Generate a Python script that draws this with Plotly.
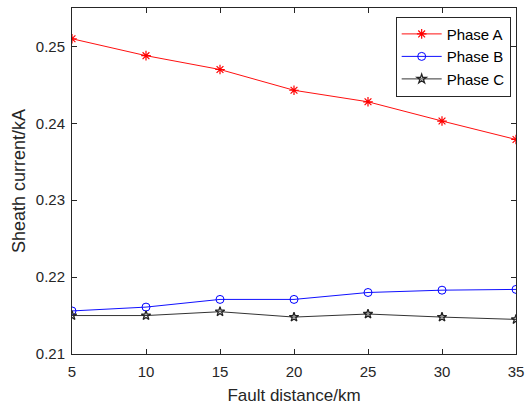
import plotly.graph_objects as go

distance = [5, 10, 15, 20, 25, 30, 35]
phase_a = [0.2510, 0.2488, 0.2470, 0.2443, 0.2428, 0.2403, 0.2379]
phase_b = [0.2156, 0.2161, 0.2171, 0.2171, 0.2180, 0.2183, 0.2184]
phase_c = [0.2150, 0.2150, 0.2155, 0.2148, 0.2152, 0.2148, 0.2145]

x_ticks = [5, 10, 15, 20, 25, 30, 35]
y_ticks = [0.21, 0.22, 0.23, 0.24, 0.25]

FONT = "Liberation Sans, Arial, sans-serif"

fig = go.Figure()
fig.add_trace(go.Scatter(x=distance, y=phase_a, name="Phase A", mode="lines+markers",
                         line=dict(color="#FF1010", width=1),
                         marker=dict(symbol="asterisk-open", size=8, color="#FF0000",
                                     line=dict(color="#FF0000", width=1.2))))
fig.add_trace(go.Scatter(x=distance, y=phase_b, name="Phase B", mode="lines+markers",
                         line=dict(color="#1010FF", width=1),
                         marker=dict(symbol="circle-open", size=8, color="#0000FF",
                                     line=dict(color="#0000FF", width=1))))
fig.add_trace(go.Scatter(x=distance, y=phase_c, name="Phase C", mode="lines+markers",
                         line=dict(color="#333333", width=1),
                         marker=dict(symbol="star-open", size=7, color="#222222",
                                     line=dict(color="#222222", width=1.3))))

axis_common = dict(showgrid=False, zeroline=False, showline=True, linecolor="#262626",
                   linewidth=1, mirror="ticks", ticks="inside", ticklen=5,
                   tickcolor="#262626", tickfont=dict(family=FONT, size=15, color="#262626"))

fig.update_xaxes(range=[5, 35], tickvals=x_ticks, ticktext=[str(v) for v in x_ticks],
                 ticklabelstandoff=4, automargin=False,
                 title=dict(text="Fault distance/km", font=dict(family=FONT, size=17, color="#262626")),
                 **axis_common)
fig.update_yaxes(range=[0.21, 0.255], tickvals=y_ticks, ticktext=["0.21", "0.22", "0.23", "0.24", "0.25"],
                 ticklabelstandoff=3, automargin=True,
                 title=dict(text="Sheath current/kA", font=dict(family=FONT, size=18, color="#262626"), standoff=5),
                 **axis_common)

fig.update_layout(
    width=530, height=405,
    margin=dict(l=72, r=14, t=8, b=51),
    paper_bgcolor="white", plot_bgcolor="white",
    showlegend=True,
    legend=dict(x=0.988, y=0.975, xanchor="right", yanchor="top",
                bgcolor="white", bordercolor="#262626", borderwidth=1,
                font=dict(family=FONT, size=15, color="#000000"),
                tracegroupgap=0, itemwidth=40),
)

fig.write_html("out.html")
